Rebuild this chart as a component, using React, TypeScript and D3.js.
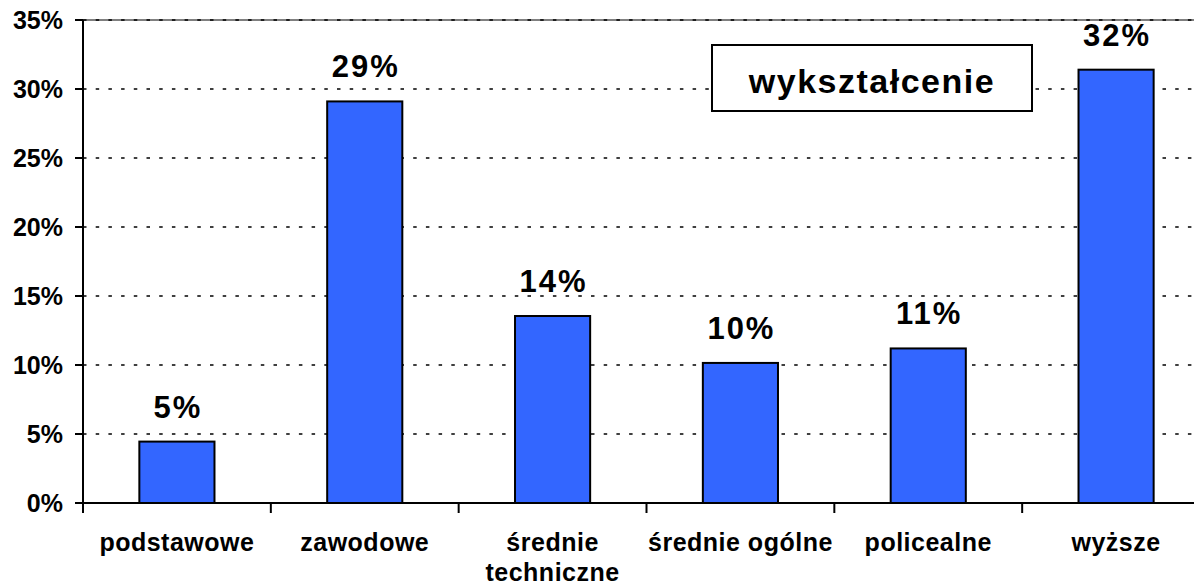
import React from 'react'
import * as d3 from 'd3'

const categories = ['podstawowe', 'zawodowe', 'średnie techniczne', 'średnie ogólne', 'policealne', 'wyższe']
const categoryLines = [['podstawowe'], ['zawodowe'], ['średnie', 'techniczne'], ['średnie ogólne'], ['policealne'], ['wyższe']]
const values = [4.45, 29.1, 13.55, 10.15, 11.2, 31.4]
const valueLabels = ['5%', '29%', '14%', '10%', '11%', '32%']
const yTicks = [0, 5, 10, 15, 20, 25, 30, 35]
const title = 'wykształcenie'

const W = 1194
const H = 587
const left = 83
const top = 20
const bottom = 503
const plotRight = 1210

const font = '"Liberation Sans", Arial, sans-serif'

export default function App() {
  const x = d3.scaleBand<string>().domain(categories).range([left, plotRight]).paddingInner(0).paddingOuter(0)
  const y = d3.scaleLinear().domain([0, 35]).range([bottom, top])
  const barW = x.bandwidth() * 0.4
  const cx = (c: string) => (x(c) as number) + x.bandwidth() / 2

  return (
    <svg width={W} height={H} style={{ position: 'absolute', left: 0, top: 0, background: '#fff' }} fontFamily={font}>
      {/* gridlines */}
      {yTicks.filter(t => t > 0 && t < 35).map(t => (
        <line key={t} x1={left} x2={W} y1={y(t)} y2={y(t)} stroke="#000" strokeWidth={1.5} strokeDasharray="3.5 9.2" />
      ))}
      <line x1={left} x2={W} y1={y(35)} y2={y(35)} stroke="#000" strokeWidth={1} />
      <line x1={left} x2={W} y1={y(35)} y2={y(35)} stroke="#000" strokeWidth={1.5} strokeDasharray="3.5 9.2" />

      {/* bars */}
      {categories.map((c, i) => (
        <rect key={c}
          x={(x(c) as number) + (x.bandwidth() - barW) / 2}
          y={y(values[i])}
          width={barW}
          height={bottom - y(values[i])}
          fill="#3366ff" stroke="#000" strokeWidth={2} />
      ))}

      {/* value labels */}
      {categories.map((c, i) => (
        <text key={c} x={cx(c) + 1} y={y(values[i]) - 24}
          textAnchor="middle" fontSize={31} fontWeight="bold" letterSpacing={2} fill="#000">{valueLabels[i]}</text>
      ))}

      {/* axes */}
      <line x1={left} x2={left} y1={top} y2={bottom} stroke="#000" strokeWidth={2} />
      <line x1={left} x2={W} y1={bottom} y2={bottom} stroke="#000" strokeWidth={2} />
      {yTicks.map(t => (
        <g key={t}>
          <line x1={left - 8} x2={left} y1={y(t)} y2={y(t)} stroke="#000" strokeWidth={2} />
          <text x={63} y={y(t) + 9} textAnchor="end" fontSize={25} fontWeight="bold" fill="#000">{t}%</text>
        </g>
      ))}
      {categories.map(c => (
        <line key={c} x1={x(c) as number} x2={x(c) as number} y1={bottom} y2={bottom + 10} stroke="#000" strokeWidth={2} />
      ))}
      {categories.map((c, i) => (
        <text key={c} x={cx(c)} y={551} textAnchor="middle" fontSize={25} fontWeight="bold" letterSpacing={0.5} fill="#000">
          {categoryLines[i].map((l, j) => (
            <tspan key={j} x={cx(c)} dy={j === 0 ? 0 : 30}>{l}</tspan>
          ))}
        </text>
      ))}

      {/* title box */}
      <rect x={712} y={45} width={320} height={66} fill="#fff" stroke="#000" strokeWidth={2} />
      <text x={872} y={93} textAnchor="middle" fontSize={34} fontWeight="bold" letterSpacing={1.5} fill="#000">{title}</text>
    </svg>
  )
}
